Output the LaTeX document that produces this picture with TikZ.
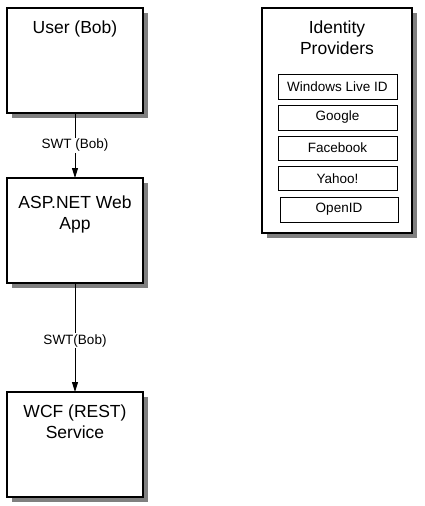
\documentclass[tikz,border=0pt]{standalone}
\usepackage{fontspec}
\setmainfont{Liberation Sans}
\usetikzlibrary{shadows,arrows.meta}
\begin{document}
\begin{tikzpicture}[x=1pt,y=-1pt,
 box/.style={draw, line width=1.1pt, fill=white, inner sep=0pt, outer sep=0pt,
   minimum width=136pt, minimum height=105pt,
   drop shadow={shadow xshift=5pt,shadow yshift=-5pt,fill=black!50,opacity=1}},
 big/.style={font=\fontsize{17.5}{21}\selectfont, align=center, anchor=base, inner sep=0pt},
 small/.style={font=\fontsize{13.5}{16}\selectfont},
 idpbox/.style={draw, line width=0.9pt, minimum width=119pt, minimum height=25pt, inner sep=0pt, outer sep=0pt, small},
 lbl/.style={fill=white, inner sep=1pt, small},
 arr/.style={-{Triangle[width=6pt,length=10pt]}, line width=0.9pt}]
\useasboundingbox (0,0) rectangle (425,506);
\node[box] (user) at (75,60.5) {};
\node[big] (usertxt) at (75,34) {User (Bob)};
\node[box] (asp) at (75,230.5) {};
\node[big] (asptxt) at (75,229) {ASP.NET Web\\App};
\node[box] (wcf) at (75,444.5) {};
\node[big] (wcftxt) at (75,438) {WCF (REST)\\Service};
\node[box, minimum width=150pt, minimum height=225pt] (idp) at (337,120.5) {};
\node[big] (idptxt) at (337,54) {Identity\\Providers};
\node[idpbox] (wlid) at (337.5,86.5) {Windows Live ID};
\node[idpbox] (google) at (337.5,117.5) {Google};
\node[idpbox, minimum height=24pt] (facebook) at (337.5,148) {Facebook};
\node[idpbox, minimum height=24pt] (yahoo) at (337.5,178.5) {Yahoo!};
\node[idpbox, minimum width=118pt] (openid) at (339,209.5) {OpenID};
\draw[arr] (user) -- node[lbl] (l1) {SWT (Bob)} (asp);
\draw[arr] (asp) -- node[lbl, pos=0.53] (l2) {SWT(Bob)} (wcf);
\end{tikzpicture}
\end{document}
